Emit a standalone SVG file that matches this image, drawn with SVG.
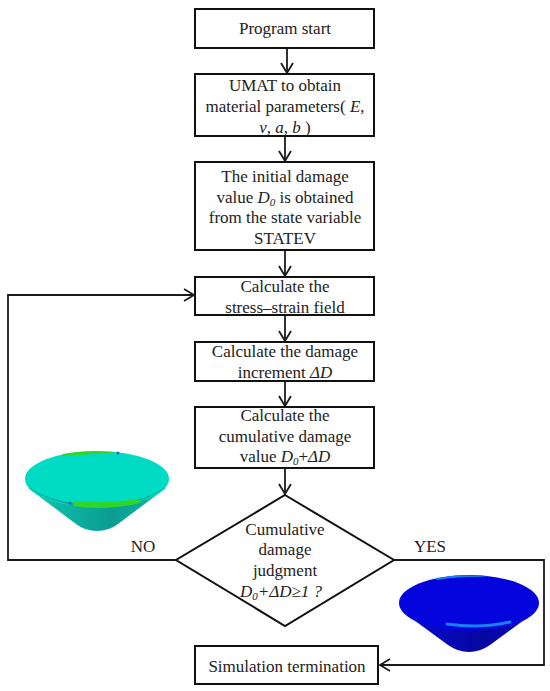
<svg xmlns="http://www.w3.org/2000/svg" width="550" height="691" viewBox="0 0 550 691">
<style>
.b{fill:#fff;stroke:#111;stroke-width:2}
.c{fill:none;stroke:#1a1a1a;stroke-width:1.8}
.t{font-family:"Liberation Serif","Times New Roman",serif;font-size:17px;fill:#222;text-anchor:middle}
.i{font-style:italic}
</style>
<defs>
<marker id="a" markerUnits="userSpaceOnUse" markerWidth="14" markerHeight="14" refX="11" refY="7" orient="auto"><path d="M1 1L11 7L1 13" fill="none" stroke="#1a1a1a" stroke-width="1.8"/></marker>
<linearGradient id="gc" x1="0" x2="1" y1="0" y2="0"><stop offset="0" stop-color="#10c8b0"/><stop offset=".6" stop-color="#0b9c94"/><stop offset="1" stop-color="#10b8a8"/></linearGradient>
<linearGradient id="bc" x1="0" x2="1" y1="0" y2="0"><stop offset="0" stop-color="#0a0ad0"/><stop offset=".6" stop-color="#0606a0"/><stop offset="1" stop-color="#0808c0"/></linearGradient>
</defs>
<rect width="550" height="691" fill="#fff"/>
<g id="connectors">
<path class="c" d="M287 48V73" marker-end="url(#a)"/>
<path class="c" d="M285 136V161" marker-end="url(#a)"/>
<path class="c" d="M285 250V276" marker-end="url(#a)"/>
<path class="c" d="M285 315V341" marker-end="url(#a)"/>
<path class="c" d="M285 381V406" marker-end="url(#a)"/>
<path class="c" d="M285 468V494" marker-end="url(#a)"/>
<path class="c" d="M176 560H8V295H194" marker-end="url(#a)"/>
<path class="c" d="M394 560H544V665H380" marker-end="url(#a)"/>
</g>
<g id="n1"><rect class="b" x="195" y="9" width="179" height="39"/><text class="t" x="285" y="34">Program start</text></g>
<g id="n2"><rect class="b" x="195" y="74" width="179" height="62"/>
<text class="t" x="285" y="91">UMAT to obtain</text>
<text class="t" x="285" y="112">material parameters( <tspan class="i">E</tspan>,</text>
<text class="t" x="285" y="133"><tspan class="i">v</tspan>, <tspan class="i">a</tspan>, <tspan class="i">b</tspan> )</text></g>
<g id="n3"><rect class="b" x="195" y="162" width="179" height="88"/>
<text class="t" x="285" y="182">The initial damage</text>
<text class="t" x="285" y="203">value <tspan class="i">D<tspan font-size="11" dy="3">0</tspan></tspan><tspan dy="-3"> is obtained</tspan></text>
<text class="t" x="285" y="223">from the state variable</text>
<text class="t" x="285" y="244">STATEV</text></g>
<g id="n4"><rect class="b" x="195" y="277" width="179" height="38"/>
<text class="t" x="285" y="292">Calculate the</text>
<text class="t" x="285" y="313">stress–strain field</text></g>
<g id="n5"><rect class="b" x="195" y="342" width="179" height="39"/>
<text class="t" x="285" y="357">Calculate the damage</text>
<text class="t" x="285" y="378">increment <tspan class="i">ΔD</tspan></text></g>
<g id="n6"><rect class="b" x="195" y="407" width="179" height="61"/>
<text class="t" x="285" y="421">Calculate the</text>
<text class="t" x="285" y="442">cumulative damage</text>
<text class="t" x="285" y="462">value <tspan class="i">D<tspan font-size="11" dy="3">0</tspan></tspan><tspan dy="-3">+</tspan><tspan class="i">ΔD</tspan></text></g>
<g id="n7"><polygon class="b" points="285,495 394,560 285,626 176,560"/>
<text class="t" x="285" y="535">Cumulative</text>
<text class="t" x="285" y="555">damage</text>
<text class="t" x="285" y="576">judgment</text>
<text class="t i" x="281" y="597">D<tspan font-size="11" dy="3">0</tspan><tspan dy="-3">+ΔD≥1 ?</tspan></text></g>
<g id="n8"><rect class="b" x="195" y="646" width="183" height="38"/><text class="t" x="287" y="672">Simulation termination</text></g>
<text class="t" x="143" y="552">NO</text>
<text class="t" x="430" y="552">YES</text>
<g id="bowl-green">
<path d="M28 488L76 524Q85 531 97 531Q109 531 118 524L166 488Z" fill="url(#gc)"/>
<ellipse cx="97" cy="479" rx="72" ry="28" fill="#00dcc4"/>
<path d="M25 480C30 497 70 507 97 507C124 507 164 497 169 480C164 496 124 505 97 505C70 505 30 496 25 480Z" fill="#0aa896"/>
<path d="M62 454Q90 449 118 453Q90 454 64 456Z" fill="#2fd62a"/>
<path d="M72 501Q105 504 138 499L141 503Q118 508 97 508Q85 508 74 506Z" fill="#2fd62a"/>
<circle cx="70" cy="503" r="1.5" fill="#2060d0"/><circle cx="118" cy="453" r="1.5" fill="#2060d0"/>
</g>
<g id="bowl-blue">
<path d="M403 612L448 645Q458 652 469 652Q480 652 490 645L535 612Z" fill="url(#bc)"/>
<ellipse cx="469" cy="603" rx="70" ry="28" fill="#0404dc"/>
<path d="M436 578Q465 573 490 577Q465 576 436 580Z" fill="#1a80f0"/>
<path d="M447 624Q480 629 510 622" fill="none" stroke="#1a80f0" stroke-width="3" stroke-linecap="round"/>
</g>
</svg>
